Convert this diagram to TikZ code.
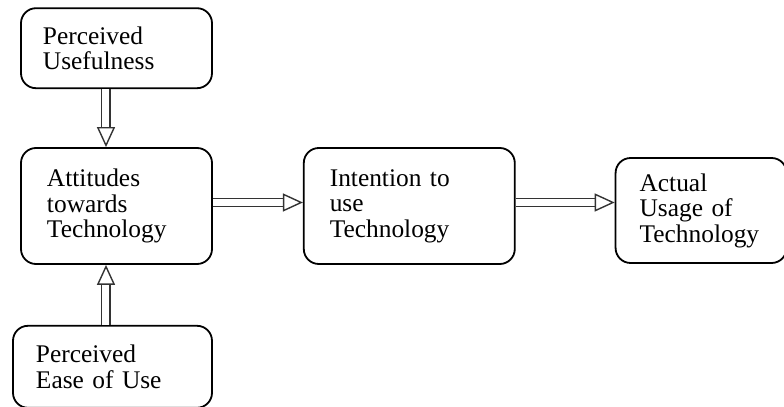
\documentclass[tikz,border=0pt]{standalone}
\usepackage{fontspec}
\setmainfont{Liberation Serif}
\usepackage{tikz}
\usetikzlibrary{positioning,arrows.meta,calc}
\tikzstyle{component}=[rectangle, draw=black, rounded corners=7.5pt, line width=0.9pt, align=left, inner ysep=0pt, font=\fontsize{12.7}{12.75}\selectfont]
\tikzstyle{arrow}=[draw=black!80, line width=0.7pt, double=white, double distance=3.5pt, -{Triangle[open, length=10pt, width=9pt, line width=0.7pt]}]

\begin{document}
\begin{tikzpicture}
        \useasboundingbox (-58.25pt,-100.5pt) rectangle (333.75pt,103pt);
        \node[component, minimum width=95.5pt, minimum height=58pt, text width=69.5pt, inner xsep=13pt] (attitude) at (0,0) {Attitudes\\towards\\Technology};
        \node[component, minimum width=95.5pt, minimum height=40pt, text width=73.5pt, inner xsep=11pt, above=29pt of attitude] (usefulness) {Perceived\\Usefulness};
        \node[component, minimum width=99.5pt, minimum height=41pt, text width=76.5pt, inner xsep=11.5pt, below=30pt of attitude, xshift=-2pt] (ease) {Perceived\\Ease of Use};
        \node[component, minimum width=105.5pt, minimum height=58pt, text width=79.5pt, inner xsep=13pt, right=45pt of attitude] (intention) {Intention to\\use\\Technology};
        \node[component, minimum width=85.5pt, minimum height=52.5pt, text width=61.5pt, inner xsep=12pt, right=49.5pt of intention, yshift=-2.25pt] (usage) {Actual\\Usage of\\Technology};

        \draw[arrow] ([xshift=-5.25pt]usefulness.south) -- ([xshift=-5.25pt]usefulness.south |- attitude.north);
        \draw[arrow] ([xshift=-5.25pt]usefulness.south |- ease.north) -- ([xshift=-5.25pt]attitude.south);
        \draw[arrow] ([yshift=1.75pt]attitude.east) -- ([yshift=1.75pt]intention.west);
        \draw[arrow] ([yshift=1.75pt]intention.east) -- ([yshift=1.75pt]intention.east -| usage.west);
    \end{tikzpicture}
\end{document}
